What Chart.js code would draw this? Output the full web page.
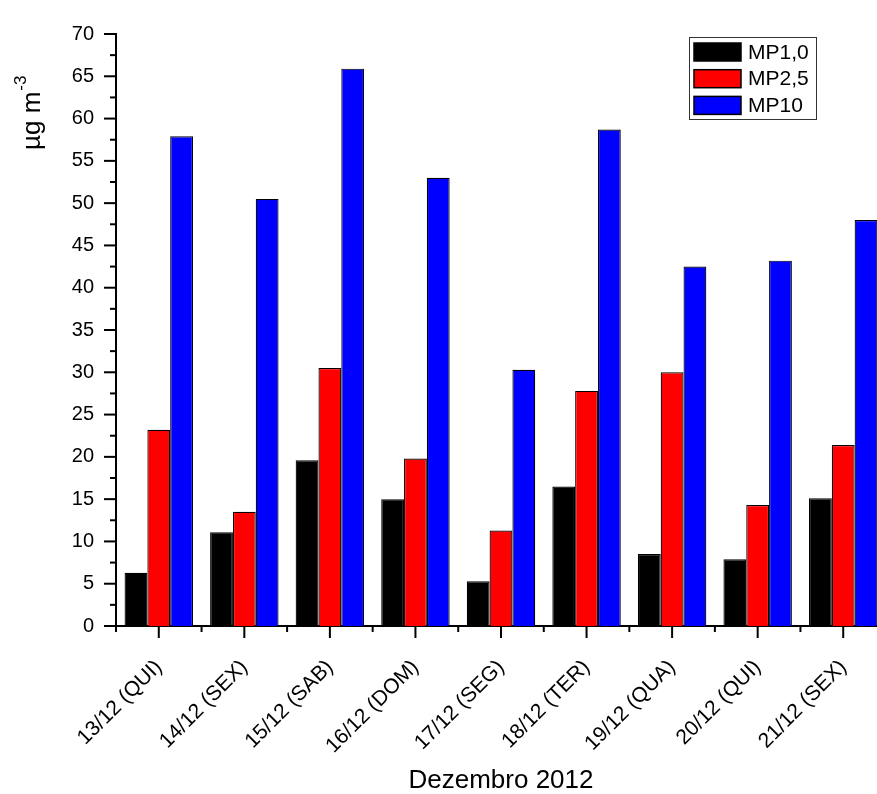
<!DOCTYPE html>
<html>
<head>
<meta charset="utf-8">
<script src="https://cdn.jsdelivr.net/npm/chart.js@4/dist/chart.umd.min.js"></script>
<style>
  html, body { margin: 0; padding: 0; background: #fff; overflow: hidden; }
  #wrap { width: 900px; height: 794px; }
</style>
</head>
<body>
<div id="wrap"><canvas id="c" width="900" height="794"></canvas></div>
<script>
const categories = ['13/12 (QUI)', '14/12 (SEX)', '15/12 (SAB)', '16/12 (DOM)', '17/12 (SEG)', '18/12 (TER)', '19/12 (QUA)', '20/12 (QUI)', '21/12 (SEX)'];
const mp1 = [6.3, 11.1, 19.6, 15.0, 5.3, 16.5, 8.5, 7.9, 15.1];
const mp25 = [23.2, 13.5, 30.5, 19.8, 11.3, 27.8, 30.0, 14.3, 21.4];
const mp10 = [57.9, 50.5, 65.9, 53.0, 30.3, 58.7, 42.5, 43.2, 48.0];
const seriesNames = ['MP1,0', 'MP2,5', 'MP10'];
const seriesColors = ['#000000', '#ff0000', '#0000ff'];
const yMin = 0, yMax = 70, yStep = 5;
const xTitle = 'Dezembro 2012';
const yTitleMain = 'µg m';
const yTitleSup = '-3';

const FONT = '"Liberation Sans", Arial, sans-serif';

const axisDecor = {
  id: 'axisDecor',
  afterDraw(chart) {
    const ctx = chart.ctx;
    const ca = chart.chartArea;
    const ys = chart.scales.y, xs = chart.scales.x;
    ctx.save();
    ctx.strokeStyle = '#000';
    ctx.lineWidth = 2;
    ctx.lineCap = 'butt';
    const yt = ys.ticks.map(t => t.value);
    yt.forEach((v, i) => {
      const py = ys.getPixelForValue(v);
      ctx.beginPath(); ctx.moveTo(ca.left - 12, py); ctx.lineTo(ca.left, py); ctx.stroke();
      if (i < yt.length - 1) {
        const pm = ys.getPixelForValue((v + yt[i + 1]) / 2);
        ctx.beginPath(); ctx.moveTo(ca.left - 6, pm); ctx.lineTo(ca.left, pm); ctx.stroke();
      }
    });
    const n = chart.data.labels.length;
    for (let i = 0; i < n; i++) {
      const px = xs.getPixelForValue(i);
      ctx.beginPath(); ctx.moveTo(px, ca.bottom); ctx.lineTo(px, ca.bottom + 12); ctx.stroke();
    }
    for (let i = 0; i <= n; i++) {
      const px = xs.getPixelForValue(i - 0.5);
      ctx.beginPath(); ctx.moveTo(px, ca.bottom); ctx.lineTo(px, ca.bottom + 6); ctx.stroke();
    }
    ctx.restore();

    ctx.save();
    ctx.fillStyle = '#000';
    ctx.translate(40, 150);
    ctx.rotate(-Math.PI / 2);
    ctx.textBaseline = 'alphabetic';
    ctx.textAlign = 'left';
    ctx.font = '26px ' + FONT;
    ctx.fillText(yTitleMain, 0, 0);
    const w = ctx.measureText(yTitleMain).width;
    ctx.font = '17px ' + FONT;
    ctx.fillText(yTitleSup, w + 1, -14);
    ctx.restore();

    ctx.save();
    const lx = 689, ly = 37, lw = 127, lh = 82;
    ctx.strokeStyle = '#333';
    ctx.lineWidth = 1;
    ctx.strokeRect(lx + 0.5, ly + 0.5, lw, lh);
    ctx.font = '21px ' + FONT;
    ctx.textBaseline = 'middle';
    ctx.textAlign = 'left';
    chart.data.datasets.forEach((ds, i) => {
      const sy = ly + 6 + i * 26.7;
      ctx.fillStyle = ds.backgroundColor;
      ctx.fillRect(lx + 5, sy, 47, 18);
      ctx.lineWidth = 1.5;
      ctx.strokeStyle = '#000';
      ctx.strokeRect(lx + 5, sy, 47, 18);
      ctx.fillStyle = '#000';
      ctx.fillText(ds.label, lx + 59, sy + 10);
    });
    ctx.restore();
  }
};

const datasets = [mp1, mp25, mp10].map((vals, i) => ({
  label: seriesNames[i],
  data: vals,
  backgroundColor: seriesColors[i],
  borderColor: '#000',
  borderWidth: 1.2,
  categoryPercentage: 0.8,
  barPercentage: 1.0
}));

new Chart(document.getElementById('c'), {
  type: 'bar',
  data: { labels: categories, datasets },
  options: {
    responsive: false,
    animation: false,
    devicePixelRatio: 1,
    layout: { padding: { left: 0, right: 14, top: 20, bottom: 0 } },
    plugins: { legend: { display: false }, tooltip: { enabled: false } },
    scales: {
      x: {
        offset: true,
        grid: { display: false, drawTicks: false, drawOnChartArea: false },
        border: { display: true, color: '#000', width: 2 },
        ticks: {
          color: '#000',
          font: { family: FONT, size: 21 },
          minRotation: 45,
          maxRotation: 45,
          padding: 29,
          autoSkip: false
        },
        title: {
          display: true,
          text: xTitle,
          color: '#000',
          font: { family: FONT, size: 26, lineHeight: 1.0 },
          padding: 0
        },
        afterFit(scale) { scale.height = 168; }
      },
      y: {
        min: yMin,
        max: yMax,
        grid: { display: false, drawTicks: false, drawOnChartArea: false },
        border: { display: true, color: '#000', width: 2 },
        ticks: {
          stepSize: yStep,
          color: '#000',
          font: { family: FONT, size: 20 },
          padding: 22
        },
        afterFit(scale) { scale.width = 116; }
      }
    }
  },
  plugins: [axisDecor]
});
</script>
</body>
</html>
